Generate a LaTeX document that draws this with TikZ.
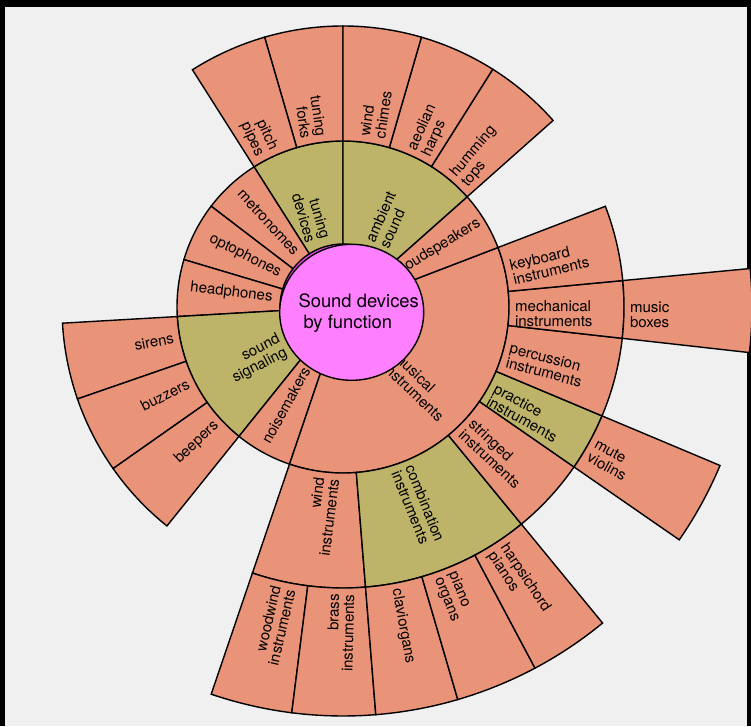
\documentclass[tikz,border=0pt]{standalone}
\usepackage{fontspec}
\setmainfont{TeX Gyre Heros}
\usetikzlibrary{shapes.geometric}
\definecolor{salmonfill}{RGB}{233,148,120}
\definecolor{khakifill}{RGB}{189,180,106}
\definecolor{hubpink}{RGB}{255,128,255}
\definecolor{hubmagenta}{RGB}{235,70,235}
\definecolor{paper}{RGB}{240,240,240}
\newcommand{\cellR}[1]{\begin{tabular}[t]{@{}l@{}}#1\end{tabular}}
\newcommand{\cellL}[1]{\begin{tabular}[t]{@{}r@{}}#1\end{tabular}}
\tikzset{
    wedgepart/.style={draw=black,line width=1.4pt,line join=miter},
    arclabel R/.style={anchor=mid west,rotate=#1,inner sep=0pt,font=\fontsize{15}{15}\selectfont},
    arclabel L/.style={anchor=mid east,rotate=#1-180,inner sep=0pt,font=\fontsize{15}{15}\selectfont},
    root/.style={ellipse,draw=black,line width=1.4pt,fill=hubpink,minimum width=144pt,minimum height=136pt,inner sep=0pt},
    rootlabel/.style={anchor=base west,inner sep=0pt,font=\fontsize{18.4}{21}\selectfont},
}

\begin{document}
\begin{tikzpicture}[x=1pt,y=1pt]
    \useasboundingbox (-343,-419) rectangle (408,307);
    \fill[black] (-343,-419) rectangle (408,307);
    \fill[paper] (-338,-419) rectangle (404,300);

    \fill[hubmagenta] (0,0) circle[radius=63pt];

    % first ring
    \def\ri{63}\def\ro{166}\def\rl{71}
    \foreach \nm/\a/\b/\col/\sd/\txt in {
        tuning/90/122.4/khakifill/L/{tuning\\devices},
        metronomes/122.4/142.6/salmonfill/L/{metronomes},
        optophones/142.6/163.4/salmonfill/L/{optophones},
        headphones/163.4/183.3/salmonfill/L/{headphones},
        signaling/183.3/231.2/khakifill/L/{sound\\signaling},
        noisemakers/231.2/251.2/salmonfill/L/{noisemakers},
        musical/251.2/381/salmonfill/R/{musical\\instruments},
        loudspeakers/21/41.6/salmonfill/R/{loudspeakers},
        ambient/41.6/90/khakifill/R/{ambient\\sound}}
    {
        \filldraw[wedgepart,fill=\col] (\a:\ri pt) arc[start angle=\a,end angle=\b,radius=\ri pt]
            -- (\b:\ro pt) arc[start angle=\b,end angle=\a,radius=\ro pt] -- cycle;
        \pgfmathsetmacro\m{(\a+\b)/2}
        \node[arclabel \sd=\m] (\nm) at (\m:\rl pt) {\csname cell\sd\endcsname{\txt}};
    }

    % second ring
    \def\ri{166}\def\ro{281}\def\rl{172}
    \foreach \nm/\a/\b/\col/\sd/\txt in {
        forks/90/106.2/salmonfill/L/{tuning\\forks},
        pipes/106.2/122.4/salmonfill/L/{pitch\\pipes},
        sirens/183.3/199.1/salmonfill/L/{sirens},
        buzzers/199.1/215.1/salmonfill/L/{buzzers},
        beepers/215.1/231.2/salmonfill/L/{beepers},
        wind/251.2/274.6/salmonfill/L/{wind\\instruments},
        combination/274.6/309.4/khakifill/R/{combination\\instruments},
        stringed/309.4/325.3/salmonfill/R/{stringed\\instruments},
        practice/325.3/337.2/khakifill/R/{practice\\instruments},
        percussion/337.2/353.6/salmonfill/R/{percussion\\instruments},
        mechanical/353.6/365.4/salmonfill/R/{mechanical\\instruments},
        keyboard/365.4/381/salmonfill/R/{keyboard\\instruments},
        humming/41.6/57.8/salmonfill/R/{humming\\tops},
        aeolian/57.8/73.8/salmonfill/R/{aeolian\\harps},
        chimes/73.8/90/salmonfill/R/{wind\\chimes}}
    {
        \filldraw[wedgepart,fill=\col] (\a:\ri pt) arc[start angle=\a,end angle=\b,radius=\ri pt]
            -- (\b:\ro pt) arc[start angle=\b,end angle=\a,radius=\ro pt] -- cycle;
        \pgfmathsetmacro\m{(\a+\b)/2}
        \node[arclabel \sd=\m] (\nm) at (\m:\rl pt) {\csname cell\sd\endcsname{\txt}};
    }

    % third ring
    \def\ri{281}\def\ro{409}\def\rl{287}
    \foreach \nm/\a/\b/\col/\sd/\txt in {
        woodwind/251.2/262.8/salmonfill/L/{woodwind\\instruments},
        brass/262.8/274.6/salmonfill/L/{brass\\instruments},
        claviorgans/274.6/286.3/salmonfill/R/{claviorgans},
        pianoorgans/286.3/298/salmonfill/R/{piano\\organs},
        harpsichord/298/309.4/salmonfill/R/{harpsichord\\pianos},
        muteviolins/325.3/337.2/salmonfill/R/{mute\\violins},
        musicboxes/353.6/365.4/salmonfill/R/{music\\boxes}}
    {
        \filldraw[wedgepart,fill=\col] (\a:\ri pt) arc[start angle=\a,end angle=\b,radius=\ri pt]
            -- (\b:\ro pt) arc[start angle=\b,end angle=\a,radius=\ro pt] -- cycle;
        \pgfmathsetmacro\m{(\a+\b)/2}
        \node[arclabel \sd=\m] (\nm) at (\m:\rl pt) {\csname cell\sd\endcsname{\txt}};
    }

    \node[root] (hub) at (8.7,-5.3) {};
    \node[rootlabel] (hubtext) at (-44.7,-0.3) {\begin{tabular}[t]{@{}l@{}}Sound devices\\\hspace*{5pt}by function\end{tabular}};
\end{tikzpicture}
\end{document}
